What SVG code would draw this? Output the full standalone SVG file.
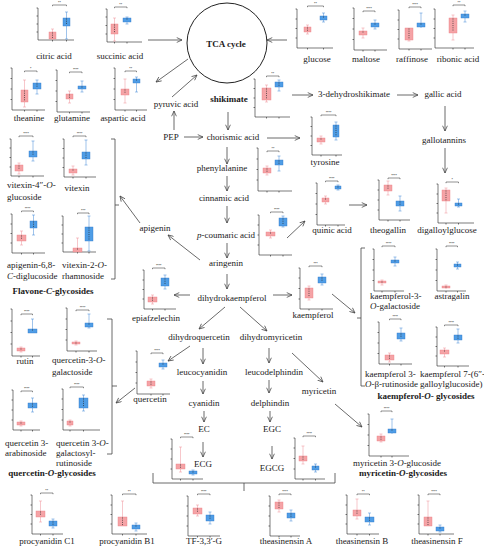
<svg xmlns="http://www.w3.org/2000/svg" width="484" height="550" viewBox="0 0 484 550">
<defs>
<style>
.t{font-family:"Liberation Serif",serif;font-size:9px;fill:#1a1a1a}
.c{text-anchor:middle}
.b{font-weight:bold}
.i{font-style:italic}
.st{font-family:"Liberation Sans",sans-serif;font-size:3.6px;text-anchor:middle;fill:#111}
.ax{fill:none;stroke:#222;stroke-width:0.6}
.rb{fill:#f5a3a6;stroke:#ec7d84;stroke-width:0.4}
.bb{fill:#4f9de6;stroke:#2f78c9;stroke-width:0.4}
.rw{fill:none;stroke:#ef8f96;stroke-width:0.5}
.bw{fill:none;stroke:#3f86d6;stroke-width:0.5}
.sg{fill:none;stroke:#222;stroke-width:0.5}
.dt{fill:none;stroke:#2a2a2a;stroke-width:0.9;stroke-linecap:round;stroke-dasharray:0 2.2}
.ar{fill:none;stroke:#444;stroke-width:0.8;marker-end:url(#ah)}
.br{fill:none;stroke:#444;stroke-width:0.8}
</style>
<marker id="ah" viewBox="0 0 8 8" refX="7.5" refY="4" markerWidth="6" markerHeight="6" orient="auto" markerUnits="userSpaceOnUse"><path d="M0.5,0.8L7.5,4L0.5,7.2" fill="none" stroke="#444" stroke-width="1"/></marker>
</defs>
<rect width="484" height="550" fill="#fff"/>

<g id="connectors">
<path class="ar" d="M148,40H182"/>
<path class="ar" d="M287,40H267"/>
<path class="ar" d="M188,59L156,82"/>
<path class="ar" d="M172,97L197,75"/>
<path class="ar" d="M174,130V111"/>
<path class="ar" d="M184,137H203"/>
<path class="ar" d="M292,95H313"/>
<path class="ar" d="M228,112V130"/>
<path class="ar" d="M397,95H418"/>
<path class="ar" d="M445,106V131"/>
<path class="ar" d="M267,138H300"/>
<path class="ar" d="M227,147V164"/>
<path class="ar" d="M227,176V191"/>
<path class="ar" d="M227,206V223"/>
<path class="ar" d="M227,243V258"/>
<path class="ar" d="M200,260L168,235"/>
<path class="ar" d="M140,223L120,196"/>
<path class="ar" d="M287,238L305,221"/>
<path class="ar" d="M349,205H367"/>
<path class="ar" d="M445,148V173"/>
<path class="ar" d="M227,274V289"/>
<path class="ar" d="M190,295H174"/>
<path class="ar" d="M273,295H292"/>
<path class="ar" d="M225,307L199,329"/>
<path class="ar" d="M240,307L267,331"/>
<path class="ar" d="M190,346L168,361"/>
<path class="ar" d="M203,348V364"/>
<path class="ar" d="M269,348V363"/>
<path class="ar" d="M292,353L323,382"/>
<path class="ar" d="M203,381V394"/>
<path class="ar" d="M269,380V393"/>
<path class="ar" d="M204,411V422"/>
<path class="ar" d="M270,411V422"/>
<path class="ar" d="M203,442V457"/>
<path class="ar" d="M272,446V459"/>
<path class="ar" d="M135,388L116,403"/>
<path class="ar" d="M332,294L355,313"/>
<path class="ar" d="M335,404L362,427"/>
<path class="br" d="M111,139H115V279H111M115,205H119"/>
<path class="br" d="M107,319H112V454H107M112,386H117"/>
<path class="br" d="M365,248H361V386H365M361,318H357"/>
<path class="br" d="M153,473V483H335V473M244,483V491"/>
</g>

<g id="tca-cycle"><circle cx="227" cy="43" r="40" fill="none" stroke="#222" stroke-width="1"/><text class="t c b" x="226" y="47">TCA cycle</text></g>
<g id="pyruvic-acid"><text class="t c" x="176" y="107">pyruvic acid</text></g>
<g id="shikimate"><text class="t c b" x="229" y="102">shikimate</text></g>
<g id="dehydroshikimate"><text class="t c" x="354" y="97">3-dehydroshikimate</text></g>
<g id="gallic-acid"><text class="t c" x="443" y="97">gallic acid</text></g>
<g id="pep"><text class="t c" x="171" y="140">PEP</text></g>
<g id="chorismic-acid"><text class="t c" x="233" y="140">chorismic acid</text></g>
<g id="gallotannins"><text class="t c" x="444" y="143">gallotannins</text></g>
<g id="phenylalanine"><text class="t c" x="222" y="171">phenylalanine</text></g>
<g id="cinnamic-acid"><text class="t c" x="224" y="201">cinnamic acid</text></g>
<g id="p-coumaric-acid"><text class="t c" x="226" y="238"><tspan class="i">p</tspan>-coumaric acid</text></g>
<g id="apigenin"><text class="t c" x="155" y="231">apigenin</text></g>
<g id="aringenin"><text class="t c" x="226" y="266">aringenin</text></g>
<g id="dihydrokaempferol"><text class="t c" x="232" y="301">dihydrokaempferol</text></g>
<g id="dihydroquercetin"><text class="t c" x="199" y="340">dihydroquercetin</text></g>
<g id="dihydromyricetin"><text class="t c" x="271" y="340">dihydromyricetin</text></g>
<g id="leucocyanidin"><text class="t c" x="202" y="375">leucocyanidin</text></g>
<g id="leucodelphindin"><text class="t c" x="274" y="375">leucodelphindin</text></g>
<g id="myricetin"><text class="t c" x="319" y="394">myricetin</text></g>
<g id="cyanidin"><text class="t c" x="204" y="406">cyanidin</text></g>
<g id="delphindin"><text class="t c" x="270" y="406">delphindin</text></g>
<g id="ec"><text class="t c" x="204" y="432">EC</text></g>
<g id="egc"><text class="t c" x="272" y="432">EGC</text></g>
<g id="ecg"><text class="t c" x="203" y="467">ECG</text></g>
<g id="egcg"><text class="t c" x="272" y="471">EGCG</text></g>
<g id="flavone-c-glycosides"><text class="t c b" x="53" y="294">Flavone-<tspan class="i">C</tspan>-glycosides</text></g>
<g id="quercetin-o-glycosides"><text class="t c b" x="52" y="476">quercetin-<tspan class="i">O</tspan>-glycosides</text></g>
<g id="kaempferol-o-glycosides"><text class="t c b" x="426" y="399">kaempferol-<tspan class="i">O</tspan>- glycosides</text></g>
<g id="myricetin-o-glycosides"><text class="t c b" x="403" y="476">myricetin-<tspan class="i">O</tspan>-glycosides</text></g>

<g id="citric-acid"><path class="ax" d="M38,8V40H74M36.5,8H38M36.5,16H38M36.5,24H38M36.5,32H38M52.5,40v1.5M66.5,40v1.5"/><path class="rw" d="M52.5,29V40M51,29h3"/><rect class="rb" x="49" y="32" width="7" height="7"/><path class="bw" d="M66.5,12V39M65,12h3M65,39h3"/><rect class="bb" x="63" y="18" width="7" height="8"/><path class="dt" d="M52.5,33V38M66.5,19V25"/><path class="sg" d="M52.5,6.2V5H66.5V6.2"/><text class="st" x="59.5" y="4.3">**</text><text class="t c" x="54" y="59">citric acid</text></g>

<g id="succinic-acid"><path class="ax" d="M107,9V42H142M105.5,9H107M105.5,17H107M105.5,25.5H107M105.5,34H107M114.5,42v1.5M127,42v1.5"/><path class="rw" d="M114.5,18V41M113,18h3M113,41h3"/><rect class="rb" x="111" y="24" width="7" height="10"/><path class="bw" d="M127,17V24M125.5,17h3M125.5,24h3"/><rect class="bb" x="123" y="18" width="8" height="4"/><path class="dt" d="M114.5,25V33M127,19V21"/><path class="sg" d="M114.5,8.2V7H127V8.2"/><text class="st" x="120.7" y="6.3">**</text><text class="t c" x="120" y="59">succinic acid</text></g>

<g id="theanine"><path class="ax" d="M12,68V110H45M10.5,68H12M10.5,78.5H12M10.5,89H12M10.5,99.5H12M24.5,110v1.5M37,110v1.5"/><path class="rw" d="M24.5,80V107M23,80h3M23,107h3"/><rect class="rb" x="21" y="90" width="7" height="12"/><path class="bw" d="M37,80V94M35.5,80h3M35.5,94h3"/><rect class="bb" x="33" y="83" width="8" height="6"/><path class="dt" d="M24.5,91V101M37,84V88"/><path class="sg" d="M24.5,72.2V71H37V72.2"/><text class="st" x="30.7" y="70.3">*</text><text class="t c" x="29" y="121">theanine</text></g>

<g id="glutamine"><path class="ax" d="M57,70V112H90M55.5,70H57M55.5,80.5H57M55.5,91H57M55.5,101.5H57M69.5,112v1.5M82,112v1.5"/><path class="rw" d="M69.5,91V103M68,91h3M68,103h3"/><rect class="rb" x="66" y="94" width="7" height="5"/><path class="bw" d="M82,81V92M80.5,81h3M80.5,92h3"/><rect class="bb" x="78" y="86" width="8" height="3"/><path class="dt" d="M69.5,95V98M82,87V88"/><path class="sg" d="M69.5,73.2V72H82V73.2"/><text class="st" x="75.7" y="71.3">****</text><text class="t c" x="72" y="121">glutamine</text></g>

<g id="aspartic-acid"><path class="ax" d="M115,68V110H147M113.5,68H115M113.5,78.5H115M113.5,89H115M113.5,99.5H115M125,110v1.5M136.5,110v1.5"/><path class="rw" d="M125,79V103M123.5,79h3M123.5,103h3"/><rect class="rb" x="121" y="89" width="8" height="6"/><path class="bw" d="M136.5,77V92M135,77h3M135,92h3"/><rect class="bb" x="133" y="79" width="7" height="4"/><path class="dt" d="M125,90V94M136.5,80V82"/><path class="sg" d="M125,72.2V71H136.5V72.2"/><text class="st" x="130.7" y="70.3">**</text><text class="t c" x="123" y="121">aspartic acid</text></g>

<g id="glucose"><path class="ax" d="M297,9V48H333M295.5,9H297M295.5,19H297M295.5,28.5H297M295.5,38H297M307.5,48v1.5M323.5,48v1.5"/><path class="rw" d="M307.5,25V34M306,25h3M306,34h3"/><rect class="rb" x="304" y="27" width="7" height="5"/><path class="bw" d="M323.5,13V22M322,13h3M322,22h3"/><rect class="bb" x="320" y="16" width="7" height="4"/><path class="dt" d="M307.5,28V31M323.5,17V19"/><path class="sg" d="M307.5,7.2V6H323.5V7.2"/><text class="st" x="315.5" y="5.3">**</text><text class="t c" x="317" y="62">glucose</text></g>

<g id="maltose"><path class="ax" d="M354,8V50H387M352.5,8H354M352.5,18.5H354M352.5,29H354M352.5,39.5H354M363,50v1.5M375,50v1.5"/><path class="rw" d="M363,28V38M361.5,28h3M361.5,38h3"/><rect class="rb" x="359" y="31" width="8" height="4"/><path class="bw" d="M375,20V29M373.5,20h3M373.5,29h3"/><rect class="bb" x="371" y="23" width="8" height="4"/><path class="dt" d="M363,32V34M375,24V26"/><path class="sg" d="M363,12.2V11H375V12.2"/><text class="st" x="369" y="10.3">****</text><text class="t c" x="366" y="62">maltose</text></g>

<g id="raffinose"><path class="ax" d="M399,10V49H432M397.5,10H399M397.5,20H399M397.5,29.5H399M397.5,39H399M409,49v1.5M421,49v1.5"/><path class="rw" d="M409,28V41M407.5,41h3"/><rect class="rb" x="405" y="28" width="8" height="12"/><path class="bw" d="M421,13V28M419.5,13h3"/><rect class="bb" x="417" y="23" width="8" height="4"/><path class="dt" d="M409,29V39M421,24V26"/><path class="sg" d="M409,8.2V7H421V8.2"/><text class="st" x="415" y="6.3">****</text><text class="t c" x="412" y="62">raffinose</text></g>

<g id="ribonic-acid"><path class="ax" d="M435,9V48H474M433.5,9H435M433.5,19H435M433.5,28.5H435M433.5,38H435M453,48v1.5M465,48v1.5"/><path class="rw" d="M453,15V40M451.5,15h3M451.5,40h3"/><rect class="rb" x="449" y="18" width="8" height="15"/><path class="bw" d="M465,11V22M463.5,11h3M463.5,22h3"/><rect class="bb" x="461" y="14" width="8" height="4"/><path class="dt" d="M453,19V32M465,15V17"/><path class="sg" d="M453,6.2V5H465V6.2"/><text class="st" x="459" y="4.3">**</text><text class="t c" x="458" y="62">ribonic acid</text></g>

<g id="shikimate-plot"><path class="ax" d="M255,79V117H290M253.5,79H255M253.5,88.5H255M253.5,98H255M253.5,107.5H255M266.5,117v1.5M279,117v1.5"/><path class="rw" d="M266.5,85V102M265,85h3M265,102h3"/><rect class="rb" x="262" y="88" width="9" height="12"/><path class="bw" d="M279,80V91M277.5,80h3M277.5,91h3"/><rect class="bb" x="275" y="82" width="8" height="5"/><path class="dt" d="M266.5,89V99M279,83V86"/><path class="sg" d="M266.5,77.2V76H279V77.2"/><text class="st" x="272.7" y="75.3">**</text></g>

<g id="tyrosine"><path class="ax" d="M312,117V155H342M310.5,117H312M310.5,126.5H312M310.5,136H312M310.5,145.5H312M321,155v1.5M336,155v1.5"/><path class="rw" d="M321,136V144M319.5,136h3M319.5,144h3"/><rect class="rb" x="317" y="138" width="8" height="4"/><path class="bw" d="M336,122V140M334.5,122h3M334.5,140h3"/><rect class="bb" x="333" y="125" width="6" height="12"/><path class="dt" d="M321,139V141M336,126V136"/><path class="sg" d="M321,116.2V115H336V116.2"/><text class="st" x="328.5" y="114.3">****</text><text class="t c" x="325" y="165">tyrosine</text></g>

<g id="phenylalanine-plot"><path class="ax" d="M258,148V191H292M256.5,148H258M256.5,159H258M256.5,169.5H258M256.5,180H258M267,191v1.5M279,191v1.5"/><path class="rw" d="M267,166V175M265.5,166h3M265.5,175h3"/><rect class="rb" x="263" y="168" width="8" height="5"/><path class="bw" d="M279,156V171M277.5,156h3M277.5,171h3"/><rect class="bb" x="275" y="160" width="8" height="5"/><path class="dt" d="M267,169V172M279,161V164"/><path class="sg" d="M267,152.2V151H279V152.2"/><text class="st" x="273" y="150.3">**</text></g>

<g id="p-coumaric-plot"><path class="ax" d="M259,215V255H292M257.5,215H259M257.5,225H259M257.5,235H259M257.5,245H259M270.5,255v1.5M283,255v1.5"/><path class="rw" d="M270.5,230V238M269,230h3M269,238h3"/><rect class="rb" x="266" y="232" width="9" height="4"/><path class="bw" d="M283,216V227M281.5,216h3M281.5,227h3"/><rect class="bb" x="279" y="218" width="8" height="8"/><path class="dt" d="M270.5,233V235M283,219V225"/><path class="sg" d="M270.5,213.2V212H283V213.2"/><text class="st" x="276.7" y="211.3">****</text></g>

<g id="quinic-acid"><path class="ax" d="M317,183V225H345M315.5,183H317M315.5,193.5H317M315.5,204H317M315.5,214.5H317M325.5,225v1.5M338,225v1.5"/><path class="rw" d="M325.5,196V204M324,196h3M324,204h3"/><rect class="rb" x="322" y="198" width="7" height="4"/><path class="bw" d="M338,185V190M336.5,185h3M336.5,190h3"/><rect class="bb" x="335" y="186" width="6" height="3"/><path class="dt" d="M325.5,199V201M338,187V188"/><path class="sg" d="M325.5,182.2V181H338V182.2"/><text class="st" x="331.7" y="180.3">****</text><text class="t c" x="332" y="233">quinic acid</text></g>

<g id="theogallin"><path class="ax" d="M379,180V220H410M377.5,180H379M377.5,190H379M377.5,200H379M377.5,210H379M388,220v1.5M400,220v1.5"/><path class="rw" d="M388,181V195M386.5,181h3M386.5,195h3"/><rect class="rb" x="384" y="185" width="8" height="6"/><path class="bw" d="M400,196V211M398.5,196h3M398.5,211h3"/><rect class="bb" x="396" y="201" width="8" height="5"/><path class="dt" d="M388,186V190M400,202V205"/><path class="sg" d="M388,179.2V178H400V179.2"/><text class="st" x="394" y="177.3">****</text><text class="t c" x="388" y="233">theogallin</text></g>

<g id="digalloylglucose"><path class="ax" d="M438,184V223H474M436.5,184H438M436.5,194H438M436.5,203.5H438M436.5,213H438M446,223v1.5M458.5,223v1.5"/><path class="rw" d="M446,188V213M444.5,188h3M444.5,213h3"/><rect class="rb" x="442" y="190" width="8" height="11"/><path class="bw" d="M458.5,199V207M457,199h3M457,207h3"/><rect class="bb" x="455" y="203" width="7" height="3"/><path class="dt" d="M446,191V200M458.5,204V205"/><path class="sg" d="M446,183.2V182H458.5V183.2"/><text class="st" x="452.2" y="181.3">*</text><text class="t c" x="447" y="233">digalloylglucose</text></g>

<g id="vitexin-4-o-glucoside"><path class="ax" d="M11,139V176H44M9.5,139H11M9.5,148H11M9.5,157.5H11M9.5,167H11M19,176v1.5M33,176v1.5"/><path class="rw" d="M19,163V174M17.5,163h3M17.5,174h3"/><rect class="rb" x="15" y="165" width="8" height="6"/><path class="bw" d="M33,141V161M31.5,141h3M31.5,161h3"/><rect class="bb" x="29" y="151" width="8" height="6"/><path class="dt" d="M19,166V170M33,152V156"/><path class="sg" d="M19,137.2V136H33V137.2"/><text class="st" x="26" y="135.3">****</text><text class="t" x="7" y="188">vitexin-4″-<tspan class="i">O</tspan>-</text><text class="t" x="7" y="200">glucoside</text></g>

<g id="vitexin"><path class="ax" d="M64,139V177H96M62.5,139H64M62.5,148.5H64M62.5,158H64M62.5,167.5H64M73,177v1.5M86,177v1.5"/><path class="rw" d="M73,166V175M71.5,166h3M71.5,175h3"/><rect class="rb" x="69" y="169" width="8" height="4"/><path class="bw" d="M86,140V165M84.5,140h3M84.5,165h3"/><rect class="bb" x="82" y="152" width="8" height="7"/><path class="dt" d="M73,170V172M86,153V158"/><path class="sg" d="M73,137.2V136H86V137.2"/><text class="st" x="79.5" y="135.3">****</text><text class="t c" x="77" y="191">vitexin</text></g>

<g id="apigenin-6-8-c-diglucoside"><path class="ax" d="M12,214V253H45M10.5,214H12M10.5,224H12M10.5,233.5H12M10.5,243H12M21.5,253v1.5M33.5,253v1.5"/><path class="rw" d="M21.5,231V245M20,231h3M20,245h3"/><rect class="rb" x="17" y="235" width="9" height="6"/><path class="bw" d="M33.5,215V235M32,215h3M32,235h3"/><rect class="bb" x="30" y="221" width="7" height="7"/><path class="dt" d="M21.5,236V240M33.5,222V227"/><path class="sg" d="M21.5,212.2V211H33.5V212.2"/><text class="st" x="27.5" y="210.3">****</text><text class="t" x="7" y="268">apigenin-6,8-</text><text class="t" x="7" y="279"><tspan class="i">C</tspan>-diglucoside</text></g>

<g id="vitexin-2-o-rhamnoside"><path class="ax" d="M63,216V252H96M61.5,216H63M61.5,225H63M61.5,234H63M61.5,243H63M77.5,252v1.5M89,252v1.5"/><path class="rw" d="M77.5,238V252M76,238h3"/><rect class="rb" x="73" y="248" width="9" height="4"/><path class="bw" d="M89,216V251M87.5,216h3M87.5,251h3"/><rect class="bb" x="85" y="227" width="8" height="14"/><path class="dt" d="M77.5,249V251M89,228V240"/><path class="sg" d="M77.5,214.2V213H89V214.2"/><text class="st" x="83.2" y="212.3">***</text><text class="t" x="62" y="268">vitexin-2-<tspan class="i">O</tspan>-</text><text class="t" x="62" y="279">rhamnoside</text></g>

<g id="epiafzelechin"><path class="ax" d="M144,270V309H176M142.5,270H144M142.5,280H144M142.5,289.5H144M142.5,299H144M152.5,309v1.5M165,309v1.5"/><path class="rw" d="M152.5,295V304M151,295h3M151,304h3"/><rect class="rb" x="148" y="297" width="9" height="5"/><path class="bw" d="M165,275V289M163.5,275h3M163.5,289h3"/><rect class="bb" x="161" y="278" width="8" height="8"/><path class="dt" d="M152.5,298V301M165,279V285"/><path class="sg" d="M152.5,269.2V268H165V269.2"/><text class="st" x="158.7" y="267.3">****</text><text class="t c" x="156" y="321">epiafzelechin</text></g>

<g id="kaempferol"><path class="ax" d="M300,268V309H333M298.5,268H300M298.5,278H300M298.5,288.5H300M298.5,299H300M309,309v1.5M322,309v1.5"/><path class="rw" d="M309,286V300M307.5,286h3M307.5,300h3"/><rect class="rb" x="305" y="288" width="8" height="10"/><path class="bw" d="M322,274V285M320.5,274h3M320.5,285h3"/><rect class="bb" x="318" y="277" width="8" height="6"/><path class="dt" d="M309,289V297M322,278V282"/><path class="sg" d="M309,267.2V266H322V267.2"/><text class="st" x="315.5" y="265.3">***</text><text class="t c" x="313" y="318">kaempferol</text></g>

<g id="kaempferol-3-o-galactoside"><path class="ax" d="M374,249V291H404M372.5,249H374M372.5,259.5H374M372.5,270H374M372.5,280.5H374M382,291v1.5M395,291v1.5"/><path class="rw" d="M382,280V285M380.5,280h3M380.5,285h3"/><rect class="rb" x="378" y="281" width="8" height="2"/><path class="bw" d="M395,257V266M393.5,257h3M393.5,266h3"/><rect class="bb" x="391" y="260" width="8" height="3"/><path class="dt" d="M382,282V282.5M395,261V262"/><path class="sg" d="M382,247.2V246H395V247.2"/><text class="st" x="388.5" y="245.3">****</text><text class="t" x="370" y="299">kaempferol-3-</text><text class="t" x="370" y="309"><tspan class="i">O</tspan>-galactoside</text></g>

<g id="astragalin"><path class="ax" d="M437,249V291H466M435.5,249H437M435.5,259.5H437M435.5,270H437M435.5,280.5H437M446,291v1.5M457.5,291v1.5"/><path class="rw" d="M446,285V289M444.5,285h3"/><rect class="rb" x="442" y="286" width="8" height="2"/><path class="bw" d="M457.5,262V269M456,262h3M456,269h3"/><rect class="bb" x="454" y="264" width="7" height="3"/><path class="dt" d="M446,287V287.5M457.5,265V266"/><path class="sg" d="M446,247.2V246H457.5V247.2"/><text class="st" x="451.7" y="245.3">****</text><text class="t c" x="452" y="299">astragalin</text></g>

<g id="kaempferol-3-o-rutinoside"><path class="ax" d="M379,322V364H412M377.5,322H379M377.5,332.5H379M377.5,343H379M377.5,353.5H379M389.5,364v1.5M401,364v1.5"/><path class="rw" d="M389.5,353V362M388,353h3M388,362h3"/><rect class="rb" x="385" y="355" width="9" height="5"/><path class="bw" d="M401,328V341M399.5,328h3M399.5,341h3"/><rect class="bb" x="397" y="333" width="8" height="6"/><path class="dt" d="M389.5,356V359M401,334V338"/><path class="sg" d="M389.5,320.2V319H401V320.2"/><text class="st" x="395.2" y="318.3">****</text><text class="t" x="365" y="377">kaempferol 3-</text><text class="t" x="365" y="387"><tspan class="i">O</tspan>-β-rutinoside</text></g>

<g id="kaempferol-7-galloylglucoside"><path class="ax" d="M437,327V366H469M435.5,327H437M435.5,337H437M435.5,346.5H437M435.5,356H437M444.5,366v1.5M458,366v1.5"/><path class="rw" d="M444.5,348V357M443,348h3M443,357h3"/><rect class="rb" x="440" y="350" width="9" height="4"/><path class="bw" d="M458,329V343M456.5,329h3M456.5,343h3"/><rect class="bb" x="454" y="335" width="8" height="5"/><path class="dt" d="M444.5,351V353M458,336V339"/><path class="sg" d="M444.5,326.2V325H458V326.2"/><text class="st" x="451.2" y="324.3">****</text><text class="t" x="420" y="377">kaempferol 7-(6″-</text><text class="t" x="420" y="387">galloylglucoside)</text></g>

<g id="rutin"><path class="ax" d="M12,309V356H40M10.5,309H12M10.5,321H12M10.5,332.5H12M10.5,344H12M21,356v1.5M32.5,356v1.5"/><path class="rw" d="M21,347V352M19.5,347h3M19.5,352h3"/><rect class="rb" x="17" y="348" width="8" height="3"/><path class="bw" d="M32.5,319V333M31,319h3"/><rect class="bb" x="28" y="329" width="9" height="4"/><path class="dt" d="M21,349V350M32.5,330V332"/><path class="sg" d="M21,315.2V314H32.5V315.2"/><text class="st" x="26.7" y="313.3">****</text><text class="t c" x="25" y="364">rutin</text></g>

<g id="quercetin-3-o-galactoside"><path class="ax" d="M67,308V351H97M65.5,308H67M65.5,319H67M65.5,329.5H67M65.5,340H67M76,351v1.5M89,351v1.5"/><path class="rw" d="M76,341V345M74.5,341h3M74.5,345h3"/><rect class="rb" x="72" y="342" width="8" height="2"/><path class="bw" d="M89,314V328M87.5,314h3M87.5,328h3"/><rect class="bb" x="85" y="323" width="8" height="4"/><path class="dt" d="M76,343V343.5M89,324V326"/><path class="sg" d="M76,311.2V310H89V311.2"/><text class="st" x="82.5" y="309.3">****</text><text class="t" x="52" y="363">quercetin-3-<tspan class="i">O</tspan>-</text><text class="t" x="52" y="375">galactoside</text></g>

<g id="quercetin"><path class="ax" d="M137,351V394H170M135.5,351H137M135.5,362H137M135.5,372.5H137M135.5,383H137M151,394v1.5M163,394v1.5"/><path class="rw" d="M151,379V388M149.5,379h3M149.5,388h3"/><rect class="rb" x="147" y="381" width="8" height="5"/><path class="bw" d="M163,360V369M161.5,360h3M161.5,369h3"/><rect class="bb" x="159" y="363" width="8" height="4"/><path class="dt" d="M151,382V385M163,364V366"/><path class="sg" d="M151,354.2V353H163V354.2"/><text class="st" x="157" y="352.3">****</text><text class="t c" x="150" y="402">quercetin</text></g>

<g id="quercetin-3-arabinoside"><path class="ax" d="M13,390V430H40M11.5,390H13M11.5,400H13M11.5,410H13M11.5,420H13M21,430v1.5M32.5,430v1.5"/><path class="rw" d="M21,421V426M19.5,421h3M19.5,426h3"/><rect class="rb" x="17" y="422" width="8" height="3"/><path class="bw" d="M32.5,398V412M31,398h3M31,412h3"/><rect class="bb" x="28" y="403" width="9" height="5"/><path class="dt" d="M21,423V424M32.5,404V407"/><path class="sg" d="M21,392.2V391H32.5V392.2"/><text class="st" x="26.7" y="390.3">****</text><text class="t" x="5" y="446">quercetin 3-</text><text class="t" x="5" y="456">arabinoside</text></g>

<g id="quercetin-3-o-galactosyl-rutinoside"><path class="ax" d="M63,389V430H100M61.5,389H63M61.5,399H63M61.5,409.5H63M61.5,420H63M70,430v1.5M83.5,430v1.5"/><path class="rw" d="M70,420V426M68.5,420h3M68.5,426h3"/><rect class="rb" x="67" y="421" width="6" height="4"/><path class="bw" d="M83.5,395V411M82,395h3M82,411h3"/><rect class="bb" x="79" y="398" width="9" height="10"/><path class="dt" d="M70,422V424M83.5,399V407"/><path class="sg" d="M70,388.2V387H83.5V388.2"/><text class="st" x="76.7" y="386.3">****</text><text class="t" x="56" y="446">quercetin 3-<tspan class="i">O</tspan>-</text><text class="t" x="56" y="456">galactosyl-</text><text class="t" x="56" y="466">rutinoside</text></g>

<g id="myricetin-3-o-glucoside"><path class="ax" d="M369,414V456H409M367.5,414H369M367.5,424.5H369M367.5,435H369M367.5,445.5H369M381,456v1.5M392,456v1.5"/><path class="rw" d="M381,434V442M379.5,434h3M379.5,442h3"/><rect class="rb" x="377" y="436" width="8" height="5"/><path class="bw" d="M392,419V434M390.5,419h3"/><rect class="bb" x="388" y="429" width="8" height="4"/><path class="dt" d="M381,437V440M392,430V432"/><path class="sg" d="M381,412.2V411H392V412.2"/><text class="st" x="386.5" y="410.3">****</text><text class="t c" x="397" y="466">myricetin 3-<tspan class="i">O</tspan>-glucoside</text></g>

<g id="ecg-plot"><path class="ax" d="M172,439V479H203M170.5,439H172M170.5,449H172M170.5,459H172M170.5,469H172M180.5,479v1.5M193,479v1.5"/><path class="rw" d="M180.5,447V472M179,447h3M179,472h3"/><rect class="rb" x="176" y="464" width="9" height="5"/><path class="bw" d="M193,470V475M191.5,470h3M191.5,475h3"/><rect class="bb" x="189" y="471" width="8" height="3"/><path class="dt" d="M180.5,465V468M193,472V473"/><path class="sg" d="M180.5,438.2V437H193V438.2"/><text class="st" x="186.7" y="436.3">****</text></g>

<g id="egcg-plot"><path class="ax" d="M295,438V479H325M293.5,438H295M293.5,448H295M293.5,458.5H295M293.5,469H295M303,479v1.5M315.5,479v1.5"/><path class="rw" d="M303,446V464M301.5,446h3M301.5,464h3"/><rect class="rb" x="299" y="456" width="8" height="5"/><path class="bw" d="M315.5,464V472M314,464h3M314,472h3"/><rect class="bb" x="312" y="466" width="7" height="4"/><path class="dt" d="M303,457V460M315.5,467V469"/><path class="sg" d="M303,437.2V436H315.5V437.2"/><text class="st" x="309.2" y="435.3">****</text></g>

<g id="procyanidin-c1"><path class="ax" d="M32,495V534H63M30.5,495H32M30.5,505H32M30.5,514.5H32M30.5,524H32M40.5,534v1.5M53,534v1.5"/><path class="rw" d="M40.5,501V522M39,501h3M39,522h3"/><rect class="rb" x="36" y="511" width="9" height="6"/><path class="bw" d="M53,519V528M51.5,519h3M51.5,528h3"/><rect class="bb" x="49" y="521" width="8" height="5"/><path class="dt" d="M40.5,512V516M53,522V525"/><path class="sg" d="M40.5,494.2V493H53V494.2"/><text class="st" x="46.7" y="492.3">**</text><text class="t c" x="47" y="544">procyanidin C1</text></g>

<g id="procyanidin-b1"><path class="ax" d="M112,495V534H147M110.5,495H112M110.5,505H112M110.5,514.5H112M110.5,524H112M122.5,534v1.5M136,534v1.5"/><path class="rw" d="M122.5,501V526M121,501h3"/><rect class="rb" x="118" y="517" width="9" height="9"/><path class="bw" d="M136,523V531M134.5,523h3M134.5,531h3"/><rect class="bb" x="132" y="525" width="8" height="4"/><path class="dt" d="M122.5,518V525M136,526V528"/><path class="sg" d="M122.5,495.2V494H136V495.2"/><text class="st" x="129.2" y="493.3">**</text><text class="t c" x="127" y="544">procyanidin B1</text></g>

<g id="tf-3-3-g"><path class="ax" d="M188,496V536H220M186.5,496H188M186.5,506H188M186.5,516H188M186.5,526H188M197.5,536v1.5M210,536v1.5"/><path class="rw" d="M197.5,505V516M196,505h3M196,516h3"/><rect class="rb" x="193" y="508" width="9" height="6"/><path class="bw" d="M210,512V524M208.5,512h3M208.5,524h3"/><rect class="bb" x="206" y="515" width="8" height="6"/><path class="dt" d="M197.5,509V513M210,516V520"/><path class="sg" d="M197.5,495.2V494H210V495.2"/><text class="st" x="203.7" y="493.3">****</text><text class="t c" x="204" y="544">TF-3,3′-G</text></g>

<g id="theasinensin-a"><path class="ax" d="M270,496V536H300M268.5,496H270M268.5,506H270M268.5,516H270M268.5,526H270M279,536v1.5M291,536v1.5"/><path class="rw" d="M279,500V512M277.5,500h3M277.5,512h3"/><rect class="rb" x="275" y="502" width="8" height="7"/><path class="bw" d="M291,510V521M289.5,510h3M289.5,521h3"/><rect class="bb" x="287" y="513" width="8" height="5"/><path class="dt" d="M279,503V508M291,514V517"/><path class="sg" d="M279,495.2V494H291V495.2"/><text class="st" x="285" y="493.3">****</text><text class="t c" x="286" y="544">theasinensin A</text></g>

<g id="theasinensin-b"><path class="ax" d="M347,495V534H379M345.5,495H347M345.5,505H347M345.5,514.5H347M345.5,524H347M357,534v1.5M369.5,534v1.5"/><path class="rw" d="M357,499V519M355.5,499h3M355.5,519h3"/><rect class="rb" x="353" y="510" width="8" height="6"/><path class="bw" d="M369.5,513V525M368,513h3M368,525h3"/><rect class="bb" x="365" y="517" width="9" height="5"/><path class="dt" d="M357,511V515M369.5,518V521"/><path class="sg" d="M357,495.2V494H369.5V495.2"/><text class="st" x="363.2" y="493.3">**</text><text class="t c" x="362" y="544">theasinensin B</text></g>

<g id="theasinensin-f"><path class="ax" d="M419,495V534H454M417.5,495H419M417.5,505H419M417.5,514.5H419M417.5,524H419M428,534v1.5M440,534v1.5"/><path class="rw" d="M428,501V526M426.5,501h3"/><rect class="rb" x="424" y="517" width="8" height="9"/><path class="bw" d="M440,525V532M438.5,525h3M438.5,532h3"/><rect class="bb" x="436" y="527" width="8" height="4"/><path class="dt" d="M428,518V525M440,528V530"/><path class="sg" d="M428,495.2V494H440V495.2"/><text class="st" x="434" y="493.3">****</text><text class="t c" x="437" y="544">theasinensin F</text></g>
</svg>
